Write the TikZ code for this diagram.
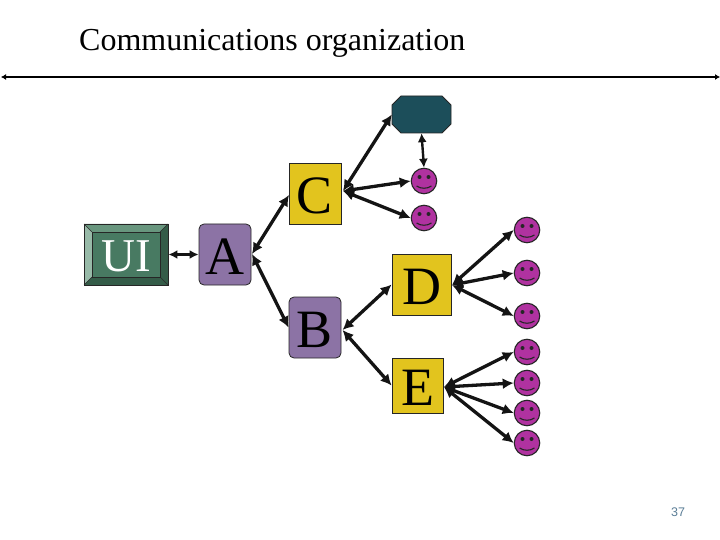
\documentclass[tikz,border=0pt]{standalone}
\usepackage{fontspec}
\setmainfont{Liberation Serif}
\newfontfamily\numfont{Liberation Sans}
\usetikzlibrary{arrows.meta}
\definecolor{uigreen}{RGB}{72,122,98}
\definecolor{uitop}{RGB}{104,150,126}
\definecolor{uileft}{RGB}{152,186,168}
\definecolor{uidark}{RGB}{52,92,72}
\definecolor{boxpurple}{RGB}{140,115,165}
\definecolor{boxyellow}{RGB}{226,196,30}
\definecolor{octteal}{RGB}{28,78,90}
\definecolor{smilefill}{RGB}{176,50,160}
\definecolor{pagenum}{RGB}{90,125,150}
\tikzset{
  box/.style={draw=black!85,line width=0.8pt,inner sep=0pt,text height=40pt,text depth=0pt,font=\fontsize{54}{54}\selectfont,text=black},
  purplebox/.style={box,fill=boxpurple,rounded corners=5pt},
  yellowbox/.style={box,fill=boxyellow},
  smile/.style={circle,draw=black!85,line width=1.1pt,fill=smilefill,minimum size=25.5pt,inner sep=0pt},
  link/.style={line width=3.3pt,black!92,{Latex[length=11pt,width=11pt]}-{Latex[length=11pt,width=11pt]}},
  thinlink/.style={line width=2.4pt,black!92,{Latex[length=9pt,width=9pt]}-{Latex[length=9pt,width=9pt]}},
  rule/.style={line width=1.7pt,black,{Latex[length=5pt,width=6pt]}-{Latex[length=5pt,width=6pt]}},
}
\newcommand{\smileyface}[3]{%
  \node[smile] (#1) at (#2,#3) {};
  \fill[black!85] (#2-4.5,#3-4) circle (2pt) (#2+4.5,#3-4) circle (2pt);
  \draw[black!85,line width=1.1pt] (#2-7.5,#3+5) .. controls (#2-3,#3+8) and (#2+3,#3+8) .. (#2+7.5,#3+5);
}
\begin{document}
\begin{tikzpicture}[x=1pt,y=-1pt]
\useasboundingbox (0,0) rectangle (720,540);
\node[anchor=base west,inner sep=0pt,font=\fontsize{32}{34}\selectfont] (title) at (79,51) {Communications organization};
\coordinate (ruleL) at (1,77);
\coordinate (ruleR) at (720,77);
\draw[rule] (ruleL) -- (ruleR);
\node[anchor=base,inner sep=0pt,font=\numfont\fontsize{12.5}{14}\selectfont,text=pagenum] (page) at (678,516) {37};

% UI bevelled box
\fill[uitop] (84,224) -- (168,224) -- (160,232) -- (92,232) -- cycle;
\fill[uileft] (84,224) -- (92,232) -- (92,277) -- (84,285) -- cycle;
\fill[uidark] (168,224) -- (160,232) -- (160,277) -- (168,285) -- cycle;
\fill[uidark] (84,285) -- (92,277) -- (160,277) -- (168,285) -- cycle;
\draw[black!85,line width=0.7pt] (84,224) -- (92,232) (168,224) -- (160,232) (84,285) -- (92,277) (168,285) -- (160,277);
\node[draw=black!85,line width=0.8pt,fill=uigreen,minimum width=68pt,minimum height=45pt,inner sep=0pt,text=white,text height=34pt,text depth=0pt,font=\fontsize{47}{47}\selectfont] (uiface) at (126,254.5) {UI};
\node[draw=black!85,line width=0.9pt,minimum width=84pt,minimum height=61pt,inner sep=0pt] (ui) at (126,254.5) {};

\node[purplebox,minimum width=52pt,minimum height=61pt] (a) at (225,254.5) {A};
\node[yellowbox,minimum width=52pt,minimum height=61pt] (c) at (315,193.5) {C};
\node[purplebox,minimum width=52pt,minimum height=61pt] (b) at (315,327.5) {B};
\node[yellowbox,minimum width=59pt,minimum height=61pt] (d) at (421.5,284.5) {D};
\node[yellowbox,minimum width=51pt,minimum height=55pt] (e) at (417.5,385.5) {E};

% teal octagon
\fill[octteal,draw=black!85,line width=0.8pt] (401,96) -- (442,96) -- (451,105) -- (451,124) -- (442,133) -- (401,133) -- (392,124) -- (392,105) -- cycle;
\node[minimum width=59pt,minimum height=37pt,inner sep=0pt] (oct) at (421.5,114.5) {};

\smileyface{s1}{424}{181}
\smileyface{s2}{424}{218}
\smileyface{d1}{527}{230}
\smileyface{d2}{527}{273}
\smileyface{d3}{527}{316}
\smileyface{e1}{527}{352}
\smileyface{e2}{527}{383}
\smileyface{e3}{527}{413}
\smileyface{e4}{527}{443}

\coordinate (chub) at (343,191);
\coordinate (bhub) at (342.5,330);
\coordinate (dhub) at (452,285);
\coordinate (ehub) at (444,387);
\coordinate (ahub) at (252,254);
\coordinate (cin) at (289,195);

\draw[thinlink] (ui.east) -- (a.west);
\draw[link] (ahub) -- (cin);
\draw[link] (ahub) -- (b.west);
\draw[link] (chub) -- (oct.west);
\draw[link] (chub) -- (s1.west);
\draw[link] (chub) -- (s2.west);
\draw[thinlink] (oct.south) -- (s1.north);
\draw[link] (bhub) -- (d.west);
\draw[link] (bhub) -- (e.west);
\draw[link] (dhub) -- (d1.west);
\draw[link] (dhub) -- (d2.west);
\draw[link] (dhub) -- (d3.west);
\draw[link] (ehub) -- (e1.west);
\draw[link] (ehub) -- (e2.west);
\draw[link] (ehub) -- (e3.west);
\draw[link] (ehub) -- (e4.west);
\end{tikzpicture}
\end{document}
